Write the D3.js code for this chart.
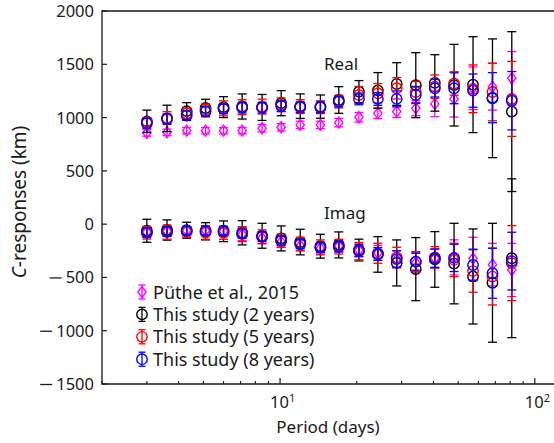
<!DOCTYPE html>
<html>
<head>
<meta charset="utf-8">
<script src="https://cdn.jsdelivr.net/npm/d3@7"></script>
<style>
body { margin: 0; background: #fff; }
text { font-family: "Noto Sans", sans-serif; fill: #1a1a1a; }
</style>
</head>
<body>
<div class="chart"></div>
<script>
// periods (days)
const periods = [3.0, 3.6, 4.3, 5.1, 6.0, 7.1, 8.5, 10.1, 12.0, 14.4, 17.0, 20.4, 24.2, 28.7, 34.1, 40.5, 48.2, 57.2, 68.2, 81.2];

// Puthe et al. 2015
const putheReal = [855, 862, 877, 877, 877, 877, 900, 909, 931, 931, 952, 1003, 1040, 1056, 1087, 1128, 1175, 1275, 1290, 1369];
const putheRealErr = [30, 30, 30, 30, 30, 30, 35, 35, 35, 35, 40, 45, 50, 55, 70, 120, 170, 200, 220, 250];
const putheImag = [-75, -65, -60, -60, -65, -95, -130, -165, -200, -225, -205, -245, -270, -330, -360, -320, -312, -323, -380, -430];
const putheImagErr = [40, 40, 35, 40, 45, 60, 55, 50, 50, 55, 55, 60, 70, 80, 90, 90, 165, 200, 200, 250];

// this study, 2 years
const y2Real = [965, 992, 1060, 1090, 1098, 1104, 1095, 1135, 1107, 1103, 1165, 1243, 1255, 1315, 1304, 1325, 1304, 1309, 1181, 1056];
const y2RealErr = [105, 124, 80, 82, 98, 118, 122, 118, 115, 109, 125, 104, 167, 200, 305, 265, 383, 450, 557, 750];
const y2Imag = [-62, -55, -57, -67, -67, -81, -109, -134, -168, -207, -195, -243, -284, -364, -422, -331, -370, -491, -550, -320];
const y2ImagErr = [108, 95, 75, 81, 97, 114, 117, 117, 120, 112, 122, 102, 167, 216, 296, 261, 378, 446, 558, 745];

// this study, 5 years
const y5Real = [960, 995, 1040, 1071, 1087, 1097, 1103, 1120, 1103, 1097, 1150, 1212, 1228, 1275, 1240, 1290, 1320, 1270, 1240, 1175];
const y5RealErr = [35, 60, 50, 55, 70, 70, 70, 65, 65, 60, 60, 80, 90, 100, 100, 110, 110, 224, 270, 352];
const y5Imag = [-80, -75, -73, -78, -82, -94, -117, -155, -186, -218, -211, -254, -273, -312, -352, -312, -336, -440, -492, -366];
const y5ImagErr = [60, 67, 50, 64, 60, 70, 63, 63, 63, 70, 69, 81, 94, 95, 94, 101, 157, 199, 266, 352];

// this study, 8 years
const y8Real = [947, 987, 1018, 1056, 1081, 1093, 1093, 1109, 1097, 1097, 1150, 1175, 1175, 1175, 1212, 1275, 1275, 1253, 1187, 1158];
const y8RealErr = [47, 45, 45, 45, 45, 50, 50, 50, 50, 50, 50, 55, 60, 75, 80, 82, 145, 156, 235, 274];
const y8Imag = [-80, -70, -62, -62, -62, -86, -117, -155, -186, -220, -211, -249, -280, -328, -352, -320, -317, -383, -461, -347];
const y8ImagErr = [45, 45, 40, 40, 40, 45, 45, 45, 45, 45, 50, 55, 60, 77, 80, 85, 128, 148, 235, 271];

const yTicks = [2000, 1500, 1000, 500, 0, -500, -1000, -1500];
const legendLabels = ["Püthe et al., 2015", "This study (2 years)", "This study (5 years)", "This study (8 years)"];

const series = [
	{ name: legendLabels[0], color: "#ff00ff", shape: "diamond", real: putheReal, realErr: putheRealErr, imag: putheImag, imagErr: putheImagErr },
	{ name: legendLabels[1], color: "#000000", shape: "circle", real: y2Real, realErr: y2RealErr, imag: y2Imag, imagErr: y2ImagErr },
	{ name: legendLabels[2], color: "#ff0000", shape: "circle", real: y5Real, realErr: y5RealErr, imag: y5Imag, imagErr: y5ImagErr },
	{ name: legendLabels[3], color: "#0000ff", shape: "circle", real: y8Real, realErr: y8RealErr, imag: y8Imag, imagErr: y8ImagErr }
];

const width = 554;
const height = 443;
const pLeft = 102, pRight = 555, pTop = 11, pBottom = 384;

const x = d3.scaleLog().domain([2, 120]).range([pLeft, pRight]);
const y = d3.scaleLinear().domain([-1500, 2000]).range([pBottom, pTop]);

const svg = d3.select('.chart')
	.append('svg')
	.attr('width', width)
	.attr('height', height);

// frame: left, bottom, top
svg.append('path')
	.attr('d', `M${pRight},${pTop}H${pLeft}V${pBottom}H${pRight}`)
	.attr('fill', 'none')
	.attr('stroke', '#1a1a1a')
	.attr('stroke-width', 1.3);

// y ticks (inward)
svg.selectAll('.ytick')
	.data(yTicks)
	.enter()
	.append('line')
	.attr('x1', pLeft)
	.attr('x2', pLeft + 5)
	.attr('y1', d => y(d))
	.attr('y2', d => y(d))
	.attr('stroke', '#1a1a1a')
	.attr('stroke-width', 1.2);

// tick numbers, then a wide minus sign placed in front of the negative ones
svg.selectAll('.ylab')
	.data(yTicks)
	.enter()
	.append('text')
	.attr('x', pLeft - 8)
	.attr('y', d => y(d) + 6)
	.attr('text-anchor', 'end')
	.style('font-size', '16.5px')
	.text(d => Math.abs(d))
	.each(function (d) {
		if (d >= 0) return;
		const w = this.getComputedTextLength();
		svg.append('line')
			.attr('x1', pLeft - 8 - w - 16)
			.attr('x2', pLeft - 8 - w - 4)
			.attr('y1', y(d) + 0.5)
			.attr('y2', y(d) + 0.5)
			.attr('stroke', '#1a1a1a')
			.attr('stroke-width', 1.3);
	});

// x ticks
const xMinor = [];
[1, 10].forEach(dec => { for (let k = 2; k <= 9; k++) xMinor.push(k * dec); });
svg.selectAll('.xminor')
	.data(xMinor)
	.enter()
	.append('line')
	.attr('x1', d => x(d))
	.attr('x2', d => x(d))
	.attr('y1', pBottom)
	.attr('y2', pBottom - 3)
	.attr('stroke', '#1a1a1a')
	.attr('stroke-width', 1.1);

svg.selectAll('.xmajor')
	.data([10, 100])
	.enter()
	.append('line')
	.attr('x1', d => x(d))
	.attr('x2', d => x(d))
	.attr('y1', pBottom)
	.attr('y2', pBottom - 6)
	.attr('stroke', '#1a1a1a')
	.attr('stroke-width', 1.2);

const xlab = svg.selectAll('.xlab')
	.data([10, 100])
	.enter()
	.append('text')
	.attr('x', d => x(d) - 10)
	.attr('y', 408)
	.style('font-size', '16.5px');
xlab.append('tspan').text('10');
xlab.append('tspan')
	.attr('dy', -6)
	.style('font-size', '11px')
	.text(d => Math.round(Math.log10(d)));

svg.append('text')
	.attr('x', 328)
	.attr('y', 433)
	.attr('text-anchor', 'middle')
	.style('font-size', '17px')
	.text('Period (days)');

const ylabel = svg.append('text')
	.attr('transform', 'translate(26,202) rotate(-90)')
	.attr('text-anchor', 'middle')
	.style('font-size', '19px');
ylabel.append('tspan').style('font-style', 'italic').text('C');
ylabel.append('tspan').text('-responses (km)');

svg.append('text').attr('x', 324).attr('y', 70).style('font-size', '17px').text('Real');
svg.append('text').attr('x', 324).attr('y', 219).style('font-size', '17px').text('Imag');

// markers
const cap = 4.5;
function drawMarker(g, cx, cy, s) {
	if (s.shape === 'circle') {
		g.append('circle')
			.attr('cx', cx).attr('cy', cy).attr('r', 5.2)
			.attr('fill', 'none').attr('stroke', s.color).attr('stroke-width', 1.4);
	} else {
		const r = 5.5;
		g.append('path')
			.attr('d', `M${cx},${cy - r}L${cx + r * 0.75},${cy}L${cx},${cy + r}L${cx - r * 0.75},${cy}Z`)
			.attr('fill', 'none').attr('stroke', s.color).attr('stroke-width', 1.4);
	}
}

function errorBars(g, s, vals, errs) {
	const pts = periods.map((p, i) => ({ p: p, v: vals[i], e: errs[i] }));
	const bars = g.selectAll(null).data(pts).enter().append('g');
	bars.append('line')
		.attr('x1', d => x(d.p)).attr('x2', d => x(d.p))
		.attr('y1', d => y(d.v + d.e)).attr('y2', d => y(d.v - d.e))
		.attr('stroke', s.color).attr('stroke-width', 1.3);
	[1, -1].forEach(sign => {
		bars.append('line')
			.attr('x1', d => x(d.p) - cap).attr('x2', d => x(d.p) + cap)
			.attr('y1', d => y(d.v + sign * d.e)).attr('y2', d => y(d.v + sign * d.e))
			.attr('stroke', s.color).attr('stroke-width', 1.3);
	});
	bars.each(function (d) { drawMarker(d3.select(this), x(d.p), y(d.v), s); });
}

series.forEach(s => {
	const g = svg.append('g');
	errorBars(g, s, s.real, s.realErr);
	errorBars(g, s, s.imag, s.imagErr);
});

// legend
const legend = svg.selectAll('.leg')
	.data(series)
	.enter()
	.append('g')
	.attr('transform', (d, i) => `translate(142,${292 + i * 22.4})`);
legend.append('line')
	.attr('x1', 0).attr('x2', 0).attr('y1', -7).attr('y2', 7)
	.attr('stroke', d => d.color).attr('stroke-width', 1.3);
legend.append('line')
	.attr('x1', -3.5).attr('x2', 3.5).attr('y1', -7).attr('y2', -7)
	.attr('stroke', d => d.color).attr('stroke-width', 1.3);
legend.append('line')
	.attr('x1', -3.5).attr('x2', 3.5).attr('y1', 7).attr('y2', 7)
	.attr('stroke', d => d.color).attr('stroke-width', 1.3);
legend.each(function (d) { drawMarker(d3.select(this), 0, 0, d); });
legend.append('text')
	.attr('x', 11)
	.attr('y', 6.5)
	.style('font-size', '18px')
	.text(d => d.name);
</script>
</body>
</html>
